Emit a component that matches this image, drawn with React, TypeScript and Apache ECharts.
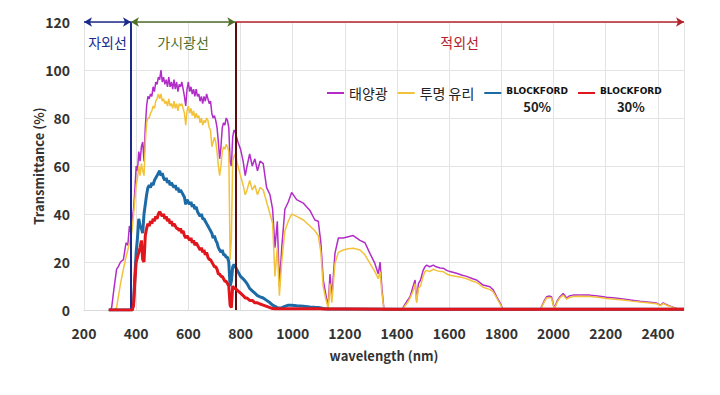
import React, { useEffect, useRef } from 'react';
import * as echarts from 'echarts';

// ---------- data ----------
const seriesNames = ['태양광', '투명 유리', 'BLOCKFORD 50%', 'BLOCKFORD 30%'];
const seriesColors = ['#b22cc8', '#f2c23a', '#1c6aa6', '#e0161c'];
const regionLabels = ['자외선', '가시광선', '적외선'];
const regionBounds = [200, 380, 780, 2500];
const regionColors = ['#1c2a8c', '#4f6e2a', '#b3222c'];
const xRange = [200, 2500];
const yRange = [0, 120];

// wavelength grid (nm) for sunlight and clear glass
const wavelength = [
  295, 300, 306, 315, 325, 331, 340, 351, 361, 368, 374, 380, 385,
  390, 395, 400, 405, 410, 415, 420, 425, 430, 435, 440, 445, 450, 455, 460, 465, 470, 475, 480,
  485, 490, 495, 500, 505, 510, 515, 520, 525, 530, 535, 540, 545, 550, 555, 560, 565, 570, 575,
  580, 585, 590, 595, 600, 605, 610, 615, 620, 625, 630, 635, 640, 645, 650, 655, 660, 665, 670,
  675, 680, 685, 690, 695, 700, 705, 710, 715, 720, 725, 730, 735, 740, 745, 750, 755, 760, 765,
  770, 775, 780, 790, 800, 810, 818, 825, 835, 845, 855, 865, 875, 887,
  900, 913, 923, 932, 941, 949, 958, 970, 983, 996, 1015, 1041, 1066, 1085, 1098, 1108,
  1117, 1126, 1136, 1143, 1150, 1162, 1175, 1194, 1213, 1232, 1258, 1277, 1296, 1315, 1328, 1335, 1342, 1350,
  1420, 1425, 1440, 1450, 1462, 1469, 1475, 1482, 1490, 1500, 1507, 1514, 1525, 1539, 1550, 1565, 1577, 1590, 1603,
  1628, 1650, 1667, 1690, 1705, 1730, 1756, 1769, 1782, 1795, 1807,
  1948, 1965, 1973, 1985, 1992, 2000, 2005, 2015, 2024, 2037, 2050, 2060, 2075, 2100, 2139,
  2170, 2203, 2235, 2267, 2300, 2331, 2360, 2395, 2410, 2420, 2433, 2450, 2472, 2490, 2500,
];

const sunlight = [
  0, 0, 1, 9, 17, 18, 20, 21, 28, 27, 35, 32, 38,
  42, 50, 60, 58, 66, 62, 68, 70, 62, 76, 85, 89, 88, 90, 89, 93, 91, 95, 94,
  97, 96, 100, 95, 97, 94, 96, 93, 97, 93, 95, 92, 96, 92, 95, 91, 94, 93, 95,
  92, 89, 85, 92, 95, 91, 93, 90, 92, 89, 92, 89, 90, 87, 89, 86, 89, 87, 90,
  88, 86, 87, 82, 80, 81, 79, 76, 70, 63, 68, 76, 78, 77, 80, 79, 76, 62, 60,
  72, 75, 74, 70, 67, 62, 56, 60, 65, 60, 63, 58, 62, 61,
  51, 48, 42, 26, 37, 10, 26, 42, 45, 49, 46, 44.5, 41.5, 37.5, 37, 28,
  12.5, 7, 1.4, 15, 5, 23.6, 30, 30, 30.5, 31, 29, 28, 23.6, 19.4, 15, 20, 9, 0,
  0, 1.4, 4, 5.5, 10, 12.5, 4, 11, 12.5, 16.5, 18, 18.7, 18, 18.7, 18, 17.5, 17.4, 16.5, 16,
  15.3, 14.5, 14, 13, 12.5, 10.4, 9.7, 8.3, 5.5, 3, 0,
  0, 4, 5.5, 5.8, 5.5, 2, 1.4, 4, 5.5, 6.9, 5, 5.8, 6.2, 6.3, 6.2,
  5.8, 5.3, 5, 4.6, 4.1, 3.6, 3.3, 2.9, 2, 3, 2.2, 1.5, 0.6, 0, 0,
];

const clearGlass = [
  0, 0, 0, 0, 1, 5, 11, 17, 22, 25, 28, 30, 34,
  40, 46, 52, 55, 60, 56, 61, 58, 56, 70, 78, 80, 80, 82, 83, 85, 84, 87, 88,
  90, 88, 90, 87, 88, 86, 87, 85, 88, 85, 86, 84, 87, 84, 86, 83, 86, 85, 86,
  84, 82, 77, 83, 85, 82, 84, 81, 83, 80, 82, 80, 81, 78, 80, 77, 79, 78, 80,
  79, 76, 75, 68, 70, 72, 70, 66, 60, 56, 60, 66, 68, 67, 69, 68, 66, 21, 30,
  62, 64, 65, 60, 56, 52, 48, 50, 54, 50, 52, 48, 51, 50,
  45, 40, 36, 14, 26, 6, 20, 33, 37, 40, 39, 37.5, 35, 33, 31, 24,
  9.7, 5, 0.7, 11, 3, 19.4, 24, 25, 25.5, 25.7, 25, 23, 19.4, 16, 13, 16, 7, 0,
  0, 1, 3, 5, 8, 11, 3, 9, 10, 14, 16, 16.5, 16, 17, 16.5, 16, 16, 15, 14.5,
  14, 13.5, 13, 12, 11.5, 9.5, 8.5, 7.5, 5, 2.5, 0,
  0, 3.5, 5, 5.2, 5, 1.5, 1, 3.5, 5, 6.2, 4.5, 5.2, 5.6, 5.7, 5.6,
  5.3, 4.8, 4.5, 4.2, 3.7, 3.3, 3, 2.6, 1.8, 2.7, 2, 1.4, 0.5, 0, 0,
];

// wavelength grid (nm) for BLOCKFORD films
const blockWavelength = [
  295, 385,
  390, 395, 400, 405, 410, 415, 420, 425, 430, 435, 440, 445, 450, 455, 460, 465, 470, 475, 480,
  485, 490, 495, 500, 505, 510, 515, 520, 525, 530, 535, 540, 545, 550, 555, 560, 565, 570, 575,
  580, 585, 590, 595, 600, 605, 610, 615, 620, 625, 630, 635, 640, 645, 650, 655, 660, 665, 670,
  675, 680, 685, 690, 695, 700, 705, 710, 715, 720, 725, 730, 735, 740, 745, 750, 755, 760, 765,
  770, 775, 780, 790, 800, 810, 818, 825, 835, 845, 855, 865, 875, 887,
  900, 913, 923, 932, 941, 949, 958, 970, 983, 996, 1015, 1041, 1066, 1085, 1098, 1108,
  1117, 1136, 1200, 1400, 1800, 2000, 2500,
];

const blockford50 = [
  0, 0,
  3, 14, 24, 30, 38, 35, 34, 32, 40, 44, 48, 51, 52, 51, 53, 52, 54, 55, 56,
  57, 58, 56, 57, 55, 54, 55, 53, 54, 52, 53, 52, 51, 52, 50, 51, 49, 50, 49,
  48, 47, 44, 46, 45, 44, 45, 43, 44, 42, 43, 41, 40, 39, 40, 38, 38, 37, 36,
  35, 34, 33, 32, 30, 31, 29, 28, 26, 25, 24, 25, 23, 23, 22, 22, 20, 10, 12,
  18, 19, 18, 16, 14, 13, 12, 11, 9, 8, 7, 6, 5.5, 5,
  4, 3, 2, 1.5, 1, 0.8, 1, 1.5, 2, 2, 1.8, 1.6, 1.3, 1.1, 1, 0.8,
  0.6, 0.4, 0.4, 0.3, 0.3, 0.3, 0.3,
];

const blockford30 = [
  0, 0,
  2, 12, 20, 22, 24, 26, 29, 21, 20, 31, 34, 36, 35, 37, 36, 38, 37, 39, 38,
  40, 41, 40, 39, 40, 38, 39, 37, 38, 36, 37, 35, 36, 35, 34, 34, 33, 34, 32,
  33, 31, 30, 31, 30, 29, 30, 28, 29, 27, 28, 27, 26, 25, 26, 24, 25, 23, 24,
  22, 21, 21, 20, 19, 18, 18, 17, 15, 15, 14, 14, 13, 12, 12, 11, 10, 2, 1,
  10, 9, 9, 8, 7, 6, 5, 5, 4, 4, 3, 3, 2.5, 2,
  1.5, 1, 0.6, 0.5, 0.5, 0.5, 0.5, 0.5, 0.5, 0.5, 0.5, 0.5, 0.5, 0.5, 0.5, 0.5,
  0.4, 0.4, 0.4, 0.3, 0.3, 0.3, 0.3,
];

const CJK = '"Noto Sans CJK KR", "Noto Sans", sans-serif';

export default function App() {
  const ref = useRef<HTMLDivElement>(null);

  useEffect(() => {
    if (!ref.current) return;
    const chart = echarts.init(ref.current, null, { renderer: 'svg' });

    const pair = (xs: number[], ys: number[]) => xs.map((x, i) => [x, ys[i]]);

    const mainSeries = [
      { name: seriesNames[0], data: pair(wavelength, sunlight), width: 1.5 },
      { name: seriesNames[1], data: pair(wavelength, clearGlass), width: 1.5 },
      { name: seriesNames[2], data: pair(blockWavelength, blockford50), width: 3 },
      { name: seriesNames[3], data: pair(blockWavelength, blockford30), width: 3 },
    ].map((s, i) => ({
      type: 'line',
      name: s.name,
      data: s.data,
      symbol: 'none',
      showSymbol: false,
      color: seriesColors[i],
      lineStyle: { color: seriesColors[i], width: s.width },
      z: 2 + i,
    }));

    const top = yRange[1];
    const arrowPair = (k: number, startArrow: boolean) => [
      {
        coord: [regionBounds[k], top],
        symbol: startArrow ? 'arrow' : 'none',
        lineStyle: { color: regionColors[k], width: 1.6, type: 'solid' },
        label: {
          show: true,
          formatter: regionLabels[k],
          position: 'insideMiddleBottom',
          distance: 13,
          color: regionColors[k],
          fontFamily: CJK,
          fontSize: 14,
        },
      },
      { coord: [regionBounds[k + 1], top], symbol: 'arrow' },
    ];

    const annotation = {
      type: 'line',
      name: 'regions',
      data: [],
      silent: true,
      clip: false,
      z: 10,
      markLine: {
        silent: true,
        animation: false,
        symbol: 'none',
        symbolSize: [7, 8],
        label: { show: false },
        data: [
          { xAxis: regionBounds[1], lineStyle: { color: '#1c2a8c', width: 2, type: 'solid' } },
          { xAxis: regionBounds[2], lineStyle: { color: '#5e0c0c', width: 2, type: 'solid' } },
          arrowPair(0, true),
          arrowPair(1, true),
          arrowPair(2, false),
        ],
      },
    };

    const option: any = {
      animation: false,
      backgroundColor: '#ffffff',
      grid: { left: 84, right: 36, top: 22, bottom: 85 },
      legend: {
        left: 326,
        top: 86,
        padding: 0,
        itemWidth: 17,
        itemHeight: 3,
        itemGap: 9,
        itemStyle: { opacity: 0 },
        data: [
          { name: seriesNames[0] },
          { name: seriesNames[1] },
          { name: seriesNames[2], textStyle: { padding: [12, 0, 0, 0] } },
          { name: seriesNames[3], textStyle: { padding: [12, 0, 0, 0] } },
        ],
        formatter: (name: string) => {
          if (name.startsWith('BLOCKFORD')) {
            const pct = name.split(' ')[1];
            return `{b|BLOCKFORD}\n{p|${pct}}`;
          }
          return `{k|${name}}`;
        },
        textStyle: {
          rich: {
            k: { fontFamily: CJK, fontSize: 14, color: '#222' },
            b: { fontFamily: '"DejaVu Sans", sans-serif', fontWeight: 'bold', fontSize: 9, color: '#111', lineHeight: 14, align: 'center' },
            p: { fontFamily: CJK, fontSize: 13, fontWeight: 'bold', color: '#222', lineHeight: 16, align: 'center' },
          },
        },
      },
      xAxis: {
        type: 'value',
        min: xRange[0],
        max: xRange[1],
        interval: 200,
        name: 'wavelength (nm)',
        nameLocation: 'middle',
        nameGap: 39,
        nameTextStyle: { fontFamily: CJK, fontSize: 13, fontWeight: 'bold', color: '#333' },
        axisLine: { show: true, lineStyle: { color: '#d9d9d9' } },
        axisTick: { show: false },
        axisLabel: {
          showMaxLabel: false,
          margin: 16,
          fontFamily: CJK,
          fontSize: 14,
          fontWeight: 'bold',
          color: '#333',
          formatter: (v: number) => String(v),
        },
        splitLine: { show: true, lineStyle: { color: '#e3e3e3', width: 1 } },
      },
      yAxis: {
        type: 'value',
        min: yRange[0],
        max: yRange[1],
        interval: 20,
        name: 'Transmittance (%)',
        nameLocation: 'middle',
        nameGap: 39,
        nameMoveOverlap: false,
        nameTextStyle: { fontFamily: CJK, fontSize: 13, fontWeight: 'bold', color: '#333' },
        axisLine: { show: false },
        axisTick: { show: false },
        axisLabel: { margin: 14, fontFamily: CJK, fontSize: 14, fontWeight: 'bold', color: '#333' },
        splitLine: { show: true, lineStyle: { color: '#e3e3e3', width: 1 } },
      },
      series: [...mainSeries, annotation],
    };

    chart.setOption(option);
    return () => chart.dispose();
  }, []);

  return (
    <div
      ref={ref}
      style={{ position: 'fixed', left: 0, top: 0, width: 720, height: 395, background: '#fff' }}
    />
  );
}
